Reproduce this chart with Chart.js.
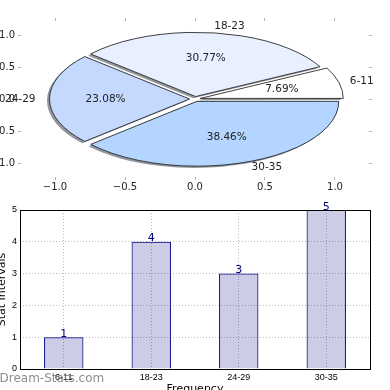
<!DOCTYPE html>
<html>
<head>
<meta charset="utf-8">
<script src="https://cdn.jsdelivr.net/npm/chart.js@4.4.1/dist/chart.umd.min.js"></script>
<style>
  html, body { margin: 0; padding: 0; background: #fff; overflow: hidden; }
  #wrap { position: relative; width: 390px; height: 390px; overflow: hidden; background: #fff; }
  #axesBox { position: absolute; left: -40px; top: 0; width: 430px; height: 200px; }
  #pieBox { position: absolute; left: 0; top: 0; width: 390px; height: 198px; }
  #barBox { position: absolute; left: -4px; top: 200px; width: 394px; height: 196px; }
</style>
</head>
<body>
<div id="wrap">
  <div id="axesBox"><canvas id="axesChart"></canvas></div>
  <div id="pieBox"><canvas id="pieChart"></canvas></div>
  <div id="barBox"><canvas id="barChart"></canvas></div>
</div>
<script>
// données du graphique
const categories = ['6-11', '18-23', '24-29', '30-35'];
const counts = [1, 4, 3, 5];
const pieAxisTicks = [-1, -0.5, 0, 0.5, 1];
const barAxisTicks = [0, 1, 2, 3, 4, 5];

const pieColors = ['#ffffff', '#e8f0ff', '#c5d9ff', '#b3d5ff'];
const SX = 140 / 64;          // étirement horizontal de la tarte
const PIE_OFFSET = 10;        // "explode"
const total = counts.reduce((a, b) => a + b, 0);

// Chart.js tourne dans le sens horaire, matplotlib dans l'autre
const pieOrder = [3, 2, 1, 0];

const fixWidth = w => scale => { scale.width = w; };
const fixHeight = h => scale => { scale.height = h; };
const setTicks = vals => scale => { scale.ticks = vals.map(v => ({ value: v })); };
const fmtAxis = v => (v < 0 ? '\u2212' : '') + Math.abs(v).toFixed(1);

/**
 * Axes autour de la tarte (-1 .. 1)
 */
const tickGrid = { drawOnChartArea: false, tickLength: 3, color: '#b5b5b5' };
const axisFont = { family: 'DejaVu Sans', size: 10 };

new Chart(document.getElementById('axesChart'), {
    type: 'scatter',
    data: { datasets: [{ data: [] }] },
    options: {
        responsive: true,
        maintainAspectRatio: false,
        animation: false,
        events: [],
        layout: { padding: 0 },
        plugins: { legend: { display: false }, tooltip: { enabled: false } },
        scales: {
            x: {
                position: 'bottom', min: -1.2429, max: 1.2429,
                afterBuildTicks: setTicks(pieAxisTicks), afterFit: fixHeight(23),
                grid: tickGrid, border: { display: false },
                ticks: { padding: 1, color: '#222', font: axisFont, callback: fmtAxis, maxRotation: 0, autoSkip: false }
            },
            xTop: {
                position: 'top', min: -1.2429, max: 1.2429,
                afterBuildTicks: setTicks(pieAxisTicks), afterFit: fixHeight(21),
                grid: tickGrid, border: { display: false },
                ticks: { display: false }
            },
            y: {
                position: 'left', min: -1.21875, max: 1.21875,
                afterBuildTicks: setTicks(pieAxisTicks), afterFit: fixWidth(61),
                grid: tickGrid, border: { display: false },
                ticks: { padding: 3, color: '#222', font: axisFont, callback: fmtAxis }
            },
            yRight: {
                position: 'right', min: -1.21875, max: 1.21875,
                afterBuildTicks: setTicks(pieAxisTicks), afterFit: fixWidth(21),
                grid: tickGrid, border: { display: false },
                ticks: { display: false }
            }
        }
    }
});

/**
 * Tarte aplatie : ombre, étirement, contours et étiquettes
 */
function squash(ctx, cx, cy) {
    ctx.translate(cx, cy);
    ctx.scale(SX, 1);
    ctx.translate(-cx, -cy);
}

const ellipsePie = {
    id: 'ellipsePie',
    beforeDatasetsDraw(chart) {
        const ctx = chart.ctx;
        const arcs = chart.getDatasetMeta(0).data;
        const cx = arcs[0].x, cy = arcs[0].y;
        // passe d'ombre
        ctx.save();
        squash(ctx, cx, cy);
        ctx.shadowColor = 'rgba(60,65,75,0.55)';
        ctx.shadowOffsetX = -2.5;
        ctx.shadowOffsetY = 1.8;
        ctx.shadowBlur = 0;
        arcs.forEach(a => a.draw(ctx));
        ctx.restore();
        ctx.save();
        squash(ctx, cx, cy);
    },
    afterDatasetsDraw(chart) {
        const ctx = chart.ctx;
        ctx.restore();
        const arcs = chart.getDatasetMeta(0).data;
        const off = PIE_OFFSET / 4;

        arcs.forEach(a => {
            const mid = (a.startAngle + a.endAngle) / 2;
            const fix = 1 - Math.sin(Math.min(Math.PI, a.circumference));
            const r = a.outerRadius + off * fix;
            const ox = a.x + Math.cos(mid) * off, oy = a.y + Math.sin(mid) * off;
            ctx.save();
            squash(ctx, a.x, a.y);
            ctx.beginPath();
            ctx.moveTo(ox, oy);
            ctx.arc(ox, oy, r, a.startAngle, a.endAngle);
            ctx.closePath();
            ctx.restore();
            ctx.lineWidth = 0.8;
            ctx.strokeStyle = '#111';
            ctx.stroke();
        });

        ctx.save();
        ctx.font = '10.5px "DejaVu Sans"';
        ctx.fillStyle = '#222';
        ctx.textBaseline = 'middle';
        arcs.forEach((a, k) => {
            const i = pieOrder[k];
            const mid = (a.startAngle + a.endAngle) / 2;
            const c = Math.cos(mid), s = Math.sin(mid);
            const R = a.outerRadius;
            const at = d => [a.x + SX * d * c, a.y + d * s];

            let [px, py] = at(0.6 * R + off);
            ctx.textAlign = 'center';
            ctx.fillText((counts[i] / total * 100).toFixed(2) + '%', px, py);

            let [lx, ly] = at(1.1 * R + off);
            ctx.textAlign = c >= 0 ? 'left' : 'right';
            ctx.fillText(categories[i], lx, ly);
        });
        ctx.restore();
    }
};

new Chart(document.getElementById('pieChart'), {
    type: 'pie',
    data: {
        labels: pieOrder.map(i => categories[i]),
        datasets: [{
            data: pieOrder.map(i => counts[i]),
            backgroundColor: pieOrder.map(i => pieColors[i]),
            borderWidth: 0,
            offset: PIE_OFFSET,
            hoverOffset: 0,
            rotation: 90,
            radius: 64
        }]
    },
    options: {
        responsive: true,
        maintainAspectRatio: false,
        animation: false,
        events: [],
        layout: { padding: 0 },
        plugins: { legend: { display: false }, tooltip: { enabled: false } }
    },
    plugins: [ellipsePie]
});

/**
 * Histogramme du bas
 */
const barExtras = {
    id: 'barExtras',
    afterDraw(chart) {
        const { ctx, chartArea: ca } = chart;
        ctx.save();
        // cadre noir
        ctx.setLineDash([]);
        ctx.lineWidth = 1;
        ctx.strokeStyle = '#000';
        ctx.strokeRect(ca.left + 0.5, ca.top + 0.5, ca.width, ca.height);

        // valeurs au-dessus des barres
        ctx.font = '11px "DejaVu Sans"';
        ctx.fillStyle = '#000080';
        ctx.textAlign = 'center';
        ctx.textBaseline = 'alphabetic';
        chart.getDatasetMeta(0).data.forEach((bar, i) => {
            ctx.fillText(String(counts[i]), bar.x, bar.y - 0.5);
        });

        // filigrane
        ctx.font = '12px "DejaVu Sans"';
        ctx.fillStyle = 'rgba(120,120,120,0.85)';
        ctx.textAlign = 'left';
        ctx.fillText('Dream-Stats.com', 3.5, 182);
        ctx.restore();
    }
};

const tickFont = { family: 'Liberation Sans', size: 9 };

new Chart(document.getElementById('barChart'), {
    type: 'bar',
    data: {
        labels: categories,
        datasets: [{
            data: counts,
            backgroundColor: 'rgba(0,0,128,0.2)',
            borderColor: '#000080',
            borderWidth: 1,
            barPercentage: 0.45,
            categoryPercentage: 1
        }]
    },
    options: {
        responsive: true,
        maintainAspectRatio: false,
        animation: false,
        events: [],
        layout: { padding: { top: 10, right: 20, left: 0, bottom: 0 } },
        plugins: { legend: { display: false }, tooltip: { enabled: false } },
        scales: {
            x: {
                offset: true,
                afterFit: fixHeight(27),
                grid: { offset: false, color: '#bdbdbd', lineWidth: 1, drawTicks: false },
                border: { display: false, dash: [1, 2] },
                ticks: { padding: 3, color: '#000', font: tickFont, maxRotation: 0, autoSkip: false },
                title: { display: true, text: 'Frequency', color: '#000', font: { family: 'DejaVu Sans', size: 11 }, padding: { top: 0, bottom: 0 } }
            },
            y: {
                min: 0, max: 5,
                afterBuildTicks: setTicks(barAxisTicks),
                afterFit: fixWidth(24),
                grid: { color: '#bdbdbd', lineWidth: 1, drawTicks: false },
                border: { display: false, dash: [1, 2] },
                ticks: { padding: 3, color: '#000', font: tickFont },
                title: { display: true, text: 'Stat Intervals', color: '#000', font: { family: 'DejaVu Sans', size: 11 }, padding: { top: 0, bottom: 0 } }
            }
        }
    },
    plugins: [barExtras]
});
</script>
</body>
</html>
